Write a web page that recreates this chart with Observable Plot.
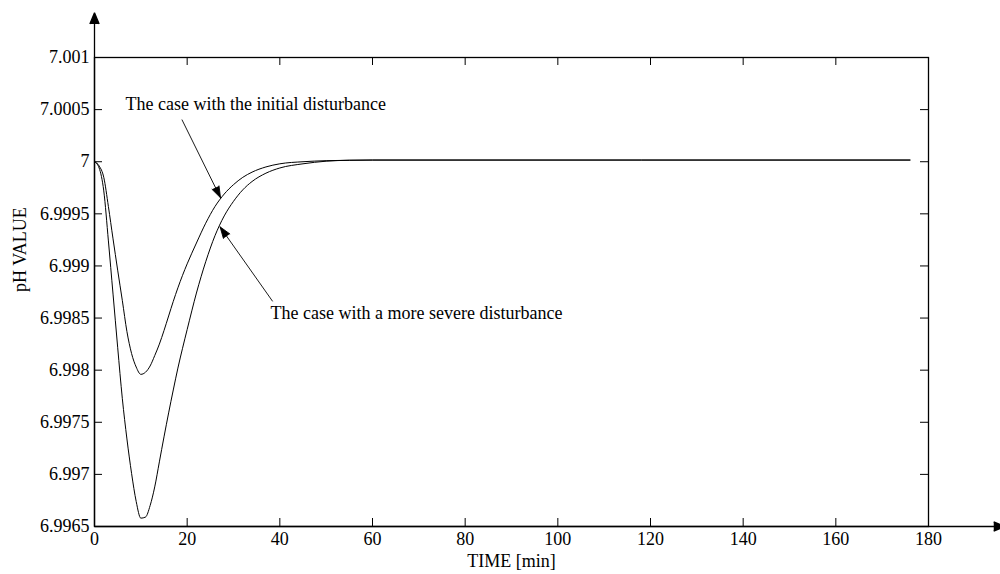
<!DOCTYPE html>
<html>
<head>
<meta charset="utf-8">
<script src="https://cdn.jsdelivr.net/npm/d3@7"></script>
<script src="https://cdn.jsdelivr.net/npm/@observablehq/plot@0.6"></script>
<style>
  html, body { margin: 0; padding: 0; background: #fff; }
  #chart svg { display: block; }
</style>
</head>
<body>
<div id="chart"></div>
<script>
// ---- data ----
const time = [0, 1, 2, 3, 4, 5, 6, 7, 8, 9, 10, 11, 12, 13, 14, 15, 16, 17, 18, 19, 20, 22, 24, 26, 28, 30, 32, 34, 37, 40, 45, 50, 55, 60, 176];
const phInitial = [7.00000, 6.99996, 6.99985, 6.99957, 6.99926, 6.99896, 6.99867, 6.99837, 6.99816, 6.99803, 6.99796, 6.99798, 6.99804, 6.99814, 6.99825, 6.99838, 6.99852, 6.99866, 6.99879, 6.99891, 6.99902, 6.99922, 6.99941, 6.99957, 6.99969, 6.99978, 6.99985, 6.99990, 6.99995, 6.99998, 7.000000, 7.00001, 7.000014, 7.000016, 7.000016];
const phSevere = [7.00000, 6.99994, 6.99972, 6.99924, 6.99873, 6.99822, 6.99773, 6.99734, 6.99701, 6.99674, 6.99658, 6.99659, 6.99670, 6.99688, 6.99712, 6.99736, 6.99759, 6.99781, 6.99802, 6.99821, 6.99839, 6.99874, 6.99904, 6.99929, 6.99948, 6.99962, 6.99973, 6.99981, 6.99989, 6.99994, 6.99998, 7.000005, 7.000014, 7.000016, 7.000016];

const xTicks = [0, 20, 40, 60, 80, 100, 120, 140, 160, 180];
const yTicks = [6.9965, 6.997, 6.9975, 6.998, 6.9985, 6.999, 6.9995, 7, 7.0005, 7.001];

const labelTexts = ["The case with the initial disturbance", "The case with a more severe disturbance"];
const labelTime = [6.7, 38.0];
const labelPH = [7.00055, 6.99855];
const arrowFromTime = [18.9, 38.4];
const arrowFromPH = [7.000401, 6.998663];
const arrowToTime = [27.2, 27.1];
const arrowToPH = [6.999654, 6.999375];

const xDomain = [0, 180];
const yDomain = [6.9965, 7.001];
const axisArrowX = [{x1: 0, x2: 196.5, y1: 6.9965, y2: 6.9965}];
const axisArrowY = [{x1: 0, x2: 0, y1: 6.9965, y2: 7.00143}];

// ---- tables built from the arrays ----
const series = [];
time.forEach((t, i) => series.push({t, ph: phInitial[i], s: "initial"}));
time.forEach((t, i) => series.push({t, ph: phSevere[i], s: "severe"}));
const labels = labelTexts.map((text, i) => ({text, t: labelTime[i], ph: labelPH[i]}));
const arrows = labelTexts.map((text, i) => ({x1: arrowFromTime[i], y1: arrowFromPH[i], x2: arrowToTime[i], y2: arrowToPH[i]}));

const W = 1000, H = 574;
const mL = 94, mR = 72, mT = 57, mB = 48;
const innerW = W - mL - mR, innerH = H - mT - mB;
const tick = 8;
const FONT = "'Liberation Serif', 'Times New Roman', serif";

const chart = Plot.plot({
  width: W,
  height: H,
  marginLeft: mL,
  marginRight: mR,
  marginTop: mT,
  marginBottom: mB,
  style: {fontFamily: FONT, fontSize: "18px", background: "#fff", color: "#000"},
  x: {domain: xDomain},
  y: {domain: yDomain},
  marks: [
    // inward ticks on all four sides
    Plot.tickX(xTicks, {x: d => d, insetTop: innerH - tick, stroke: "#000", strokeWidth: 1}),
    Plot.tickX(xTicks, {x: d => d, insetBottom: innerH - tick, stroke: "#000", strokeWidth: 1}),
    Plot.tickY(yTicks, {y: d => d, insetRight: innerW - tick, stroke: "#000", strokeWidth: 1}),
    Plot.tickY(yTicks, {y: d => d, insetLeft: innerW - tick, stroke: "#000", strokeWidth: 1}),
    Plot.frame({stroke: "#000", strokeWidth: 1.3}),
    Plot.axisX({ticks: xTicks, tickSize: 0, tickPadding: 6, label: null, fontSize: 18, tickFormat: d => String(d)}),
    Plot.axisY({ticks: yTicks, tickSize: 0, tickPadding: 5, label: null, fontSize: 18, tickFormat: d => String(d)}),
    // curves
    Plot.line(series, {x: "t", y: "ph", z: "s", stroke: "#000", strokeWidth: 1, curve: "monotone-x"}),
    // axis arrows
    Plot.arrow(axisArrowY, {x1: "x1", y1: "y1", x2: "x2", y2: "y2", headLength: 14, headAngle: 45, stroke: "#000", fill: "#000", strokeWidth: 1.3, strokeLinecap: "butt"}),
    Plot.arrow(axisArrowX, {x1: "x1", y1: "y1", x2: "x2", y2: "y2", headLength: 14, headAngle: 45, stroke: "#000", fill: "#000", strokeWidth: 1.3, strokeLinecap: "butt"}),
    // annotations
    Plot.arrow(arrows, {x1: "x1", y1: "y1", x2: "x2", y2: "y2", headLength: 20, headAngle: 38, stroke: "#000", fill: "#000", strokeWidth: 0.9}),
    Plot.text(labels, {x: "t", y: "ph", text: "text", textAnchor: "start", fontSize: 18, fill: "#000"}),
    // axis titles
    Plot.text(["TIME [min]"], {frameAnchor: "bottom", dy: 40, fontSize: 18, fill: "#000"}),
    Plot.text(["pH VALUE"], {frameAnchor: "left", dx: -74, rotate: -90, fontSize: 18, fill: "#000"})
  ]
});
document.getElementById("chart").appendChild(chart);
</script>
</body>
</html>
